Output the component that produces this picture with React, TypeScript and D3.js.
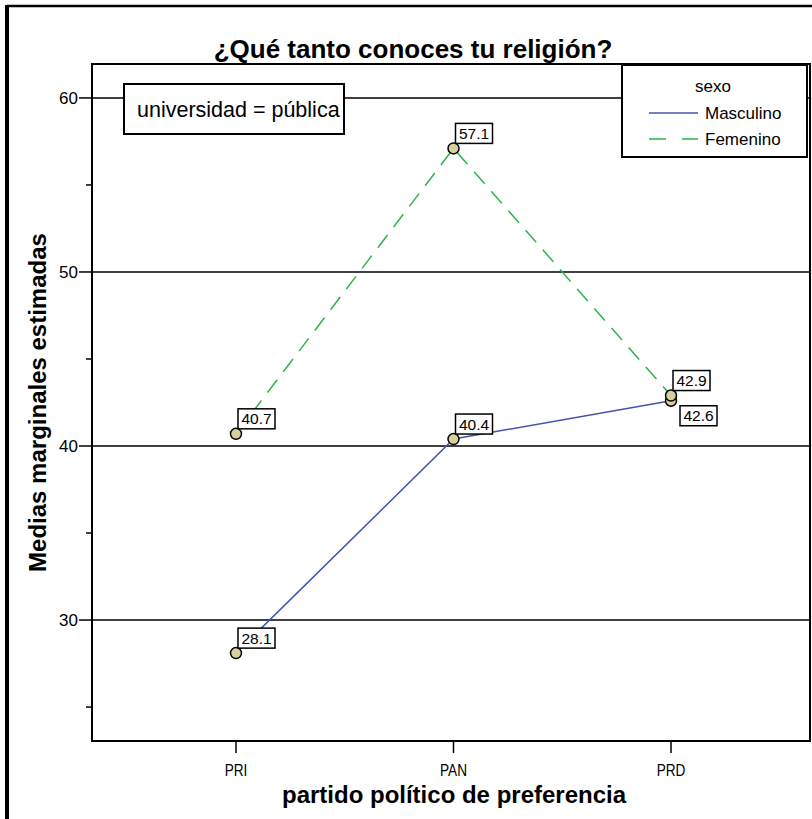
import React, { useEffect, useRef } from 'react';
import * as d3 from 'd3';

const categories = ['PRI', 'PAN', 'PRD'];
const masculino = [28.1, 40.4, 42.6];
const femenino = [40.7, 57.1, 42.9];
const majorTicks = [30, 40, 50, 60];
const minorTicks = [25, 35, 45, 55];

const App: React.FC = () => {
  const svgRef = useRef<SVGSVGElement>(null);

  useEffect(() => {
    if (!svgRef.current) return;
    const width = 812;
    const height = 819;
    const svg = d3.select(svgRef.current);
    svg.selectAll('*').remove();

    const font = "'Liberation Sans', Arial, sans-serif";
    const left = 92, right = 810, top = 64, bottom = 741;

    const x = d3.scalePoint<string>()
      .domain(categories)
      .range([left, 815])
      .padding(0.662);

    const y = d3.scaleLinear()
      .domain([23.05, 61.95])
      .range([bottom, top]);

    svg.append('rect').attr('width', width).attr('height', height).attr('fill', '#fff');

    // outer frame
    svg.append('line').attr('x1', 7).attr('x2', width).attr('y1', 6).attr('y2', 6)
      .attr('stroke', '#000').attr('stroke-width', 2.5);
    svg.append('line').attr('x1', 7).attr('x2', 7).attr('y1', 5).attr('y2', height)
      .attr('stroke', '#000').attr('stroke-width', 4);

    // gridlines
    svg.append('g').selectAll('line').data(majorTicks).join('line')
      .attr('x1', left).attr('x2', right)
      .attr('y1', d => y(d)).attr('y2', d => y(d))
      .attr('stroke', '#000').attr('stroke-width', 1.5);

    // plot frame
    svg.append('rect')
      .attr('x', left).attr('y', top)
      .attr('width', right - left).attr('height', bottom - top)
      .attr('fill', 'none').attr('stroke', '#000').attr('stroke-width', 2);

    // y ticks
    const yAxis = svg.append('g');
    yAxis.selectAll('line.major').data(majorTicks).join('line')
      .attr('x1', left - 13).attr('x2', left)
      .attr('y1', d => y(d)).attr('y2', d => y(d))
      .attr('stroke', '#000').attr('stroke-width', 1.5);
    yAxis.selectAll('line.minor').data(minorTicks).join('line')
      .attr('x1', left - 6).attr('x2', left)
      .attr('y1', d => y(d)).attr('y2', d => y(d))
      .attr('stroke', '#000').attr('stroke-width', 1.5);
    yAxis.selectAll('text').data(majorTicks).join('text')
      .attr('x', left - 14).attr('y', d => y(d) + 6)
      .attr('text-anchor', 'end')
      .attr('font-family', font).attr('font-size', 17)
      .text(d => d);

    // x ticks
    const xAxis = svg.append('g');
    xAxis.selectAll('line').data(categories).join('line')
      .attr('x1', d => x(d)!).attr('x2', d => x(d)!)
      .attr('y1', bottom).attr('y2', bottom + 12)
      .attr('stroke', '#000').attr('stroke-width', 1.5);
    xAxis.selectAll('text').data(categories).join('text')
      .attr('x', d => x(d)!).attr('y', bottom + 35)
      .attr('text-anchor', 'middle')
      .attr('font-family', font).attr('font-size', 17)
      .attr('transform', d => `translate(${x(d)!},0) scale(0.8,1) translate(${-x(d)!},0)`)
      .text(d => d);

    // axis titles
    svg.append('text')
      .attr('x', 454).attr('y', 803)
      .attr('text-anchor', 'middle')
      .attr('font-family', font).attr('font-size', 24).attr('font-weight', 'bold')
      .text('partido político de preferencia');
    svg.append('text')
      .attr('transform', `translate(46, ${(top + bottom) / 2}) rotate(-90)`)
      .attr('text-anchor', 'middle')
      .attr('font-family', font).attr('font-size', 24).attr('font-weight', 'bold')
      .text('Medias marginales estimadas');

    // title
    svg.append('text')
      .attr('x', 413).attr('y', 58)
      .attr('text-anchor', 'middle')
      .attr('font-family', font).attr('font-size', 26).attr('font-weight', 'bold')
      .text('¿Qué tanto conoces tu religión?');

    // universidad box
    svg.append('rect')
      .attr('x', 124).attr('y', 84).attr('width', 220).attr('height', 50)
      .attr('fill', '#fff').attr('stroke', '#000').attr('stroke-width', 2);
    svg.append('text')
      .attr('x', 137).attr('y', 117)
      .attr('font-family', font).attr('font-size', 21.5)
      .text('universidad = pública');

    // lines
    const line = d3.line<number>()
      .x((_, i) => x(categories[i])!)
      .y(d => y(d));

    svg.append('path').datum(masculino)
      .attr('d', line).attr('fill', 'none')
      .attr('stroke', '#4254b0').attr('stroke-width', 1.5);
    svg.append('path').datum(femenino)
      .attr('d', line).attr('fill', 'none')
      .attr('stroke', '#2cb548').attr('stroke-width', 1.5)
      .attr('stroke-dasharray', '16,10');

    // points
    const pts = [
      ...masculino.map((v, i) => ({ cat: categories[i], v, below: i === 2 })),
      ...femenino.map((v, i) => ({ cat: categories[i], v, below: false })),
    ];
    svg.append('g').selectAll('circle').data(pts).join('circle')
      .attr('cx', d => x(d.cat)!).attr('cy', d => y(d.v))
      .attr('r', 5.5)
      .attr('fill', '#d6d19c').attr('stroke', '#000').attr('stroke-width', 1.5);

    // value labels
    const lab = svg.append('g').selectAll('g').data(pts).join('g')
      .attr('transform', d => {
        const cx = x(d.cat)!, cy = y(d.v);
        return d.below ? `translate(${cx + 9},${cy + 5})` : `translate(${cx + 2},${cy - 25})`;
      });
    lab.append('rect')
      .attr('width', 37).attr('height', 20)
      .attr('fill', '#fff').attr('stroke', '#000').attr('stroke-width', 1.5);
    lab.append('text')
      .attr('x', 18.5).attr('y', 15.5)
      .attr('text-anchor', 'middle')
      .attr('font-family', font).attr('font-size', 15.5)
      .text(d => d.v.toFixed(1));

    // legend
    const lg = svg.append('g');
    lg.append('rect')
      .attr('x', 622).attr('y', 65).attr('width', 185).attr('height', 92)
      .attr('fill', '#fff').attr('stroke', '#000').attr('stroke-width', 2);
    lg.append('text')
      .attr('x', 713).attr('y', 92).attr('text-anchor', 'middle')
      .attr('font-family', font).attr('font-size', 17)
      .text('sexo');
    const items = [
      { name: 'Masculino', color: '#4254b0', dash: null as string | null },
      { name: 'Femenino', color: '#2cb548', dash: '17,16' },
    ];
    items.forEach((it, i) => {
      const yy = 113 + i * 26;
      const l = lg.append('line')
        .attr('x1', 649).attr('x2', 698).attr('y1', yy).attr('y2', yy)
        .attr('stroke', it.color).attr('stroke-width', 1.5);
      if (it.dash) l.attr('stroke-dasharray', it.dash);
      lg.append('text')
        .attr('x', 705).attr('y', yy + 6)
        .attr('font-family', font).attr('font-size', 17)
        .text(it.name);
    });
  }, []);

  return (
    <svg ref={svgRef} width={812} height={819}
      style={{ position: 'absolute', left: 0, top: 0, display: 'block' }} />
  );
};

export default App;
